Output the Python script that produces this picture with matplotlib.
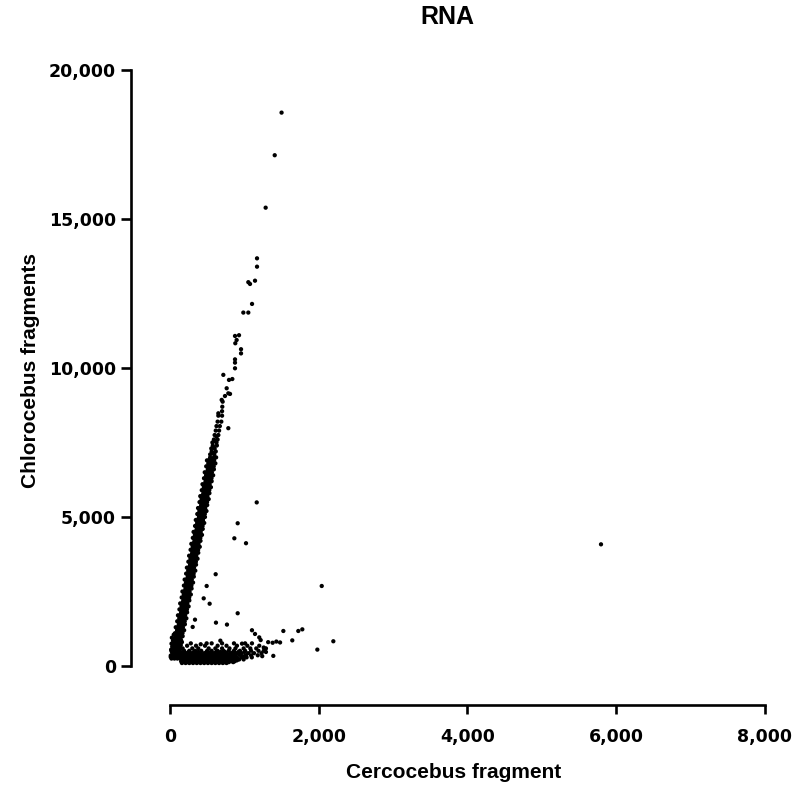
import numpy as np
import matplotlib
matplotlib.use("Agg")
import matplotlib.pyplot as plt

# main diagonal arm: y level -> x values read across the band
arm_levels = [300, 400, 500, 600, 700, 800, 900, 1000, 1100, 1200, 1300, 1400,
              1500, 1600, 1700, 1800, 1900, 2000, 2100, 2200, 2300, 2400, 2500,
              2600, 2700, 2800, 2900, 3000, 3100, 3200, 3300, 3400, 3500, 3600,
              3700, 3800, 3900, 4000, 4100, 4200, 4300, 4400, 4500, 4600, 4700,
              4800, 4900, 5000, 5100, 5200, 5300, 5400, 5500, 5600, 5700, 5800,
              5900, 6000, 6100, 6200, 6300, 6400, 6500, 6600, 6700, 6800, 6900,
              7000, 7100, 7200, 7300, 7400, 7500, 7600, 7750, 7900, 8050, 8200,
              8400, 8550]
arm_xs = [[10, 60, 110], [35, 85, 130], [20, 78, 115], [60, 110, 140],
          [40, 90, 145], [65, 115, 160], [47, 105, 143], [90, 140, 170],
          [67, 117, 168], [95, 145, 190], [77, 137, 173], [120, 170, 200],
          [97, 147, 198], [125, 175, 220], [107, 167, 203], [150, 200, 230],
          [127, 177, 228], [155, 205, 250], [137, 197, 233], [180, 230, 260],
          [157, 207, 258], [185, 235, 280], [167, 227, 263], [210, 260, 290],
          [187, 237, 288], [215, 265, 310], [197, 257, 293], [240, 290, 320],
          [217, 267, 318], [245, 295, 340], [227, 287, 323], [270, 320, 350],
          [247, 297, 348], [275, 325, 370], [257, 317, 353], [300, 350, 380],
          [277, 327, 378], [305, 355, 400], [287, 347, 383], [330, 380, 410],
          [307, 357, 408], [335, 385, 430], [317, 377, 413], [360, 410, 440],
          [337, 387, 438], [365, 415, 460], [347, 407, 443], [390, 440, 470],
          [367, 417, 468], [395, 445, 490], [377, 437, 473], [420, 470, 500],
          [397, 447, 498], [425, 475, 520], [407, 467, 503], [450, 500, 530],
          [427, 477, 528], [455, 505, 550], [437, 497, 533], [480, 530, 560],
          [457, 507, 558], [485, 535, 580], [467, 527, 563], [510, 560, 590],
          [487, 537, 588], [515, 565, 610], [497, 557, 593], [540, 590, 620],
          [540, 595], [560, 615], [555, 600], [575, 630], [570, 625],
          [590, 640], [600, 650], [615, 660], [625, 670], [640, 690],
          [650, 700], [700]]

# arm points lying between the rows above
mid_levels = [350, 450, 550, 650, 750, 850, 950, 1050, 1150, 1250, 1350, 1450,
              1550, 1650, 1750, 1850, 1950, 2050, 2150, 2250, 2350, 2450, 2550,
              2650, 2750, 2850, 2950, 3050, 3150, 3250, 3350, 3450, 3550, 3650,
              3750, 3850, 3950, 4050, 4150, 4250, 4350, 4450, 4550, 4650, 4750,
              4850, 4950, 5050, 5150, 5250, 5350, 5450, 5550, 5650, 5750, 5850,
              5950, 6050, 6150, 6250, 6350, 6450, 6550, 6650, 6750, 6850, 6950,
              7150, 7350, 7550, 7700]
mid_xs = [[40, 90], [50, 100], [55, 105], [65, 115], [70, 120], [80, 130],
          [85, 135], [95, 145], [100, 150], [110, 160], [115, 165], [125, 175],
          [130, 180], [140, 190], [145, 195], [155, 205], [160, 210], [170, 220],
          [175, 225], [185, 235], [190, 240], [200, 250], [205, 255], [215, 265],
          [220, 270], [230, 280], [235, 285], [245, 295], [250, 300], [260, 310],
          [265, 315], [275, 325], [280, 330], [290, 340], [295, 345], [305, 355],
          [310, 360], [320, 370], [325, 375], [335, 385], [340, 390], [350, 400],
          [355, 405], [365, 415], [370, 420], [380, 430], [385, 435], [395, 445],
          [400, 450], [410, 460], [415, 465], [425, 475], [430, 480], [440, 490],
          [445, 495], [455, 505], [460, 510], [470, 520], [475, 525], [485, 535],
          [490, 540], [500, 550], [505, 555], [515, 565], [520, 570], [530, 580],
          [535, 585], [575], [580], [600], [625]]

# low cluster near the x axis
low_levels = [100, 130, 160, 190, 220, 250, 255, 290, 325, 350, 360, 395, 430,
              450, 470, 510, 550, 590, 650, 680, 750, 760, 850, 950, 1050]
low_xs = [[160, 210, 260, 310, 360, 410, 460, 510, 560, 610, 660, 710, 760],
          [185, 235, 285, 335, 385, 435, 485, 535, 585, 635, 685, 735, 790, 850],
          [150, 195, 245, 290, 340, 385, 435, 480, 530, 575, 625, 670, 720, 770, 820, 870],
          [175, 225, 275, 325, 375, 425, 475, 525, 575, 625, 675, 745, 800, 900],
          [170, 220, 270, 320, 370, 420, 470, 520, 570, 620, 670, 720, 770, 820, 870, 930, 990],
          [20, 60, 100, 140],
          [185, 235, 285, 335, 385, 435, 485, 535, 585, 640, 700, 760, 840, 910],
          [150, 200, 250, 300, 350, 400, 450, 500, 550, 600, 650, 700, 750, 800, 850, 900, 960, 1030, 1100],
          [175, 225, 275, 325, 375, 425, 475, 525, 575, 625, 680, 730, 820, 880, 990],
          [10, 50, 90, 130],
          [180, 230, 280, 330, 380, 430, 480, 530, 580, 630, 680, 730, 780, 830, 880, 950, 1020, 1090, 1180],
          [200, 260, 320, 370, 450, 500, 560, 610, 670, 740, 800, 860, 930],
          [160, 220, 290, 350, 410, 460, 520, 590, 650, 700, 760, 820, 890, 960, 1050, 1130, 1230],
          [30, 70, 110, 150],
          [190, 250, 320, 380, 490, 550, 620, 680, 740, 850, 920, 1000],
          [190, 260, 340, 420, 500, 560, 640, 720, 790, 860, 940, 1010, 1090, 1190, 1260],
          [15, 55, 95, 135],
          [170, 300, 380, 520, 610, 700, 800, 880, 990, 1080, 1160, 1290],
          [30, 70, 110],
          [230, 350, 470, 640, 760, 900, 1040, 1200],
          [20, 60, 130],
          [280, 560, 700, 860, 1010],
          [40, 80, 150],
          [25, 70, 120],
          [50, 95, 150]]

# sparse points above the arm
upper_x = [1500, 1408, 1286, 1170, 1170, 1143, 1053, 1076, 1103, 986, 1053, 874,
           928, 896, 878, 955, 955, 874, 874, 874, 717, 793, 838, 762, 784, 807,
           739, 708, 703, 695, 650, 784]
upper_y = [18570, 17140, 15380, 13680, 13400, 12930, 12880, 12820, 12150, 11860,
           11860, 11075, 11100, 10940, 10830, 10630, 10490, 10290, 10180, 9990,
           9770, 9600, 9630, 9320, 9150, 9130, 9060, 8870, 8700, 8930, 8480, 7980]

# scattered points between arm and low cluster
other_x = [1166, 910, 865, 1022, 614, 493, 453, 533, 910, 336, 305, 618, 766,
           1102, 1143, 1200, 1219, 1524, 1725, 1779, 1644, 2040, 2196, 1981,
           1389, 677, 493, 413, 968, 1102, 1320, 1380, 1430, 1480, 1260, 1290,
           1240, 5795]
other_y = [5490, 4790, 4285, 4120, 3080, 2685, 2270, 2090, 1770, 1555, 1310,
           1455, 1390, 1200, 1075, 960, 870, 1175, 1175, 1230, 860, 2685, 830,
           550, 340, 850, 760, 730, 750, 760, 800, 780, 820, 790, 620, 470,
           330, 4083]

xs, ys = [], []
for lev, row in zip(arm_levels + mid_levels + low_levels, arm_xs + mid_xs + low_xs):
    xs += row
    ys += [lev] * len(row)
xs += upper_x + other_x
ys += upper_y + other_y

fig = plt.figure(figsize=(8.04, 7.85), dpi=100)
ax = fig.add_axes([170 / 804, 1 - 666 / 785, 595 / 804, 596 / 785])
ax.scatter(xs, ys, s=9.5, c="black", edgecolors="none", clip_on=False)

ax.set_xlim(0, 8000)
ax.set_ylim(0, 20000)
ax.set_xticks([0, 2000, 4000, 6000, 8000])
ax.set_yticks([0, 5000, 10000, 15000, 20000])
ax.xaxis.set_major_formatter(matplotlib.ticker.StrMethodFormatter("{x:,.0f}"))
ax.yaxis.set_major_formatter(matplotlib.ticker.StrMethodFormatter("{x:,.0f}"))

for side in ["top", "right"]:
    ax.spines[side].set_visible(False)
ax.spines["left"].set_position(("outward", 28.3))
ax.spines["bottom"].set_position(("outward", 28))
ax.spines["left"].set_bounds(0, 20000)
ax.spines["bottom"].set_bounds(0, 8000)
for side in ["left", "bottom"]:
    ax.spines[side].set_linewidth(1.9)
ax.tick_params(axis="y", length=7, width=1.9, pad=3.5)
ax.tick_params(axis="x", length=6.5, width=1.9, pad=10)
for lab in ax.get_xticklabels() + ax.get_yticklabels():
    lab.set_fontfamily("DejaVu Sans")
    lab.set_fontweight("bold")
    lab.set_fontsize(12.5)

fig.text(447 / 804, 1 - 17 / 785, "RNA", ha="center", va="center",
         fontsize=18, fontweight="bold", family="Liberation Sans")
fig.text(454 / 804, 1 - 772 / 785, "Cercocebus fragment", ha="center",
         va="center", fontsize=15, fontweight="bold", family="Liberation Sans")
fig.text(31 / 804, 1 - 370 / 785, "Chlorocebus fragments", ha="center",
         va="center", rotation=90, fontsize=15, fontweight="bold",
         family="Liberation Sans")

fig.savefig("out.png", dpi=100)
